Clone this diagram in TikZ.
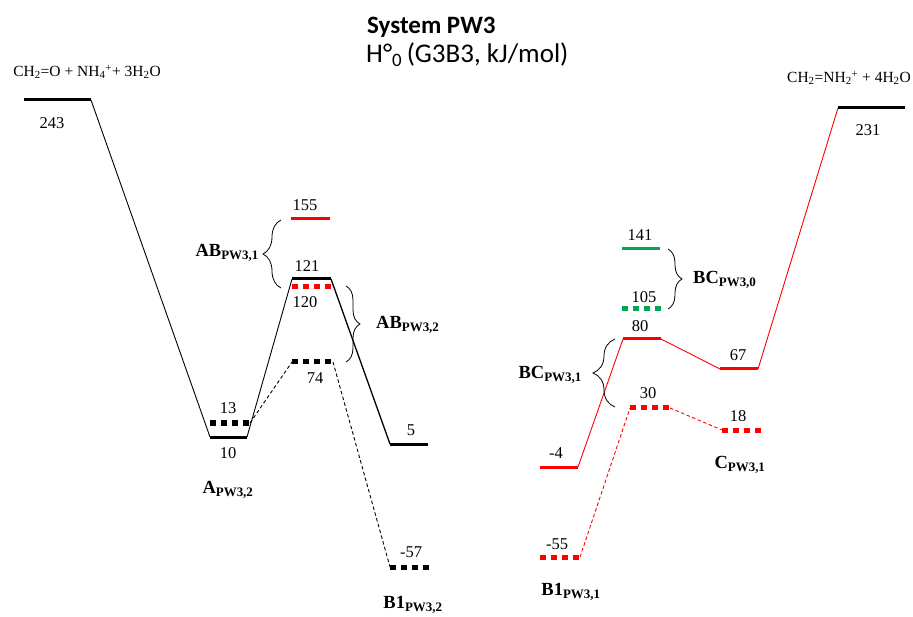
\documentclass[tikz,border=0pt]{standalone}
\usepackage{fontspec}
\setmainfont{Liberation Serif}
\newfontfamily\titlefont{Carlito}
\usepackage{xcolor}
\usetikzlibrary{decorations.pathreplacing, positioning}
\definecolor{levelred}{RGB}{255,0,0}
\definecolor{levelgreen}{RGB}{0,166,81}
\tikzset{solidlevel/.style={line width=3pt},dottedlevel/.style={line width=5pt, dash pattern=on 6pt off 5pt}}
\tikzset{valuelabel/.style={inner sep=0pt, font=\fontsize{16.5}{18}\selectfont},namelabel/.style={inner sep=0pt, font=\bfseries\fontsize{18.5}{20}\selectfont}}

\begin{document}
\begin{tikzpicture}[
        x=1pt, y=-1pt,
        link/.style={line width=0.9pt},
        dashedlink/.style={line width=0.9pt, dash pattern=on 3.5pt off 2.5pt},
        bracket/.style={line width=0.8pt, decorate, decoration={brace, amplitude=#1}},
        specieslabel/.style={inner sep=0pt, font=\fontsize{15.5}{17}\selectfont}
    ]
        \useasboundingbox (0, 0) rectangle (913, 617);
        % Title
        \node[anchor=west, inner sep=0pt, font=\titlefont\bfseries\fontsize{25}{27}\selectfont] (title) at (367, 27) {System PW3};
        \node[anchor=west, inner sep=0pt, font=\titlefont\fontsize{27}{29}\selectfont] (subtitle) at (366, 55) {H°\textsubscript{0}\,(G3B3, kJ/mol)};
        % Level ends
        \foreach \name/\xa/\xb/\y in {
            r243/24/91/100,
            a10/210/247/437,
            a13/210/250/423,
            ab155/291/330/219,
            ab121/292/331/279,
            ab120/292/333/287,
            ab74/292/333/362,
            p5/390/428/444,
            b57/390/430/567,
            m4/540/578/467,
            b55/540/580/557,
            bc141/622/660/249,
            bc105/622/663/309,
            bc80/623/661/339,
            bc30/630/670/408,
            c67/720/758/369,
            c18/722/762/430,
            p231/838/905/108} {
            \coordinate (\name-l) at (\xa, \y);
            \coordinate (\name-r) at (\xb, \y);
        }
        % Connectors
        \draw[link] (r243-r) -- (a10-l);
        \draw[link] (a10-r) -- (ab121-l);
        \draw[link, line width=1.3pt] (ab121-r) -- (p5-l);
        \draw[dashedlink] (a13-r) -- (ab74-l);
        \draw[dashedlink] (ab74-r) -- (b57-l);
        \draw[link, levelred] (m4-r) -- (bc80-l);
        \draw[link, levelred] (bc80-r) -- (c67-l);
        \draw[link, levelred] (c67-r) -- (p231-l);
        \draw[dashedlink, levelred] (b55-r) -- (bc30-l);
        \draw[dashedlink, levelred] (bc30-r) -- (c18-l);
        % Levels
        \draw[solidlevel] (r243-l) -- (r243-r);
        \draw[solidlevel] (a10-l) -- (a10-r);
        \draw[dottedlevel] (a13-l) -- (a13-r);
        \draw[solidlevel, levelred] (ab155-l) -- (ab155-r);
        \draw[solidlevel] (ab121-l) -- (ab121-r);
        \draw[dottedlevel, levelred] (ab120-l) -- (ab120-r);
        \draw[dottedlevel] (ab74-l) -- (ab74-r);
        \draw[solidlevel] (p5-l) -- (p5-r);
        \draw[dottedlevel] (b57-l) -- (b57-r);
        \draw[solidlevel, levelred] (m4-l) -- (m4-r);
        \draw[dottedlevel, levelred] (b55-l) -- (b55-r);
        \draw[solidlevel, levelgreen] (bc141-l) -- (bc141-r);
        \draw[dottedlevel, levelgreen] (bc105-l) -- (bc105-r);
        \draw[solidlevel, levelred] (bc80-l) -- (bc80-r);
        \draw[dottedlevel, levelred] (bc30-l) -- (bc30-r);
        \draw[solidlevel, levelred] (c67-l) -- (c67-r);
        \draw[dottedlevel, levelred] (c18-l) -- (c18-r);
        \draw[solidlevel] (p231-l) -- (p231-r);
        % Values
        \foreach \name/\x/\y/\val in {
            243/52/123/243,
            10/228/453/10,
            13/228/408/13,
            155/305/205/155,
            121/307/266/121,
            120/305/302/120,
            74/315/378/74,
            5/411/430/5,
            57/411/552/-57,
            4/556/453/-4,
            55/557/544/-55,
            141/640/235/141,
            105/644/297/105,
            80/640/326/80,
            30/648/393/30,
            67/738/355/67,
            18/738/416/18,
            231/868/130/231} {
            \node[valuelabel] (v\name) at (\x, \y) {\val};
        }
        % Species
        \node[specieslabel] (start) at (87, 72) {CH\textsubscript{2}=O + NH\textsubscript{4}\textsuperscript{+}+ 3H\textsubscript{2}O};
        \node[specieslabel] (final) at (849, 78) {CH\textsubscript{2}=NH\textsubscript{2}\textsuperscript{+} + 4H\textsubscript{2}O};
        \node[namelabel] (A2) at (228, 490) {A\textsubscript{PW3,2}};
        \node[namelabel] (B12) at (413, 605) {B1\textsubscript{PW3,2}};
        \node[namelabel] (B11) at (571, 592) {B1\textsubscript{PW3,1}};
        \node[namelabel] (C1) at (740, 465) {C\textsubscript{PW3,1}};
        % Braces
        \draw[bracket=18pt] (281, 288) -- (281, 220);
        \node[namelabel, anchor=east] (AB1) at (259, 253) {AB\textsubscript{PW3,1}};
        \draw[bracket=14pt] (346, 286) -- (346, 362);
        \node[namelabel, anchor=west] (AB2) at (376, 325) {AB\textsubscript{PW3,2}};
        \draw[bracket=14pt] (668, 249) -- (668, 309);
        \node[namelabel, anchor=west] (BC0) at (693, 280) {BC\textsubscript{PW3,0}};
        \draw[bracket=22pt] (615, 407) -- (615, 339);
        \node[namelabel, anchor=east] (BC1) at (582, 375) {BC\textsubscript{PW3,1}};
    \end{tikzpicture}
\end{document}
